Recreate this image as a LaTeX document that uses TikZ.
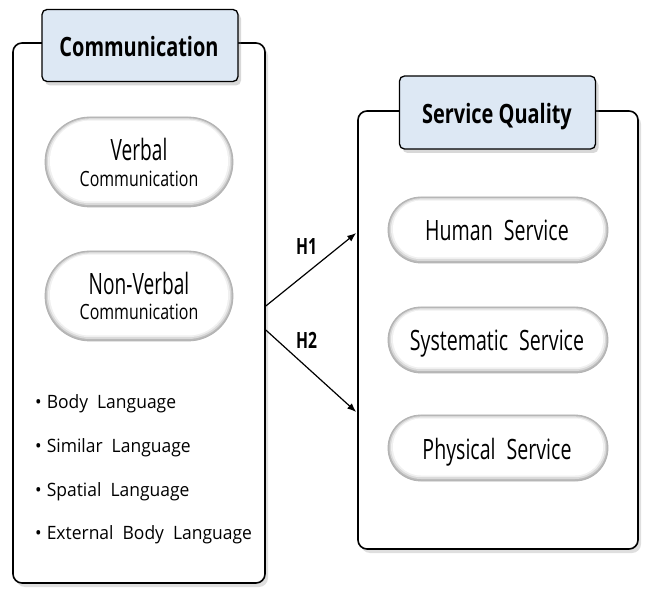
\documentclass[tikz,border=0pt]{standalone}
\usepackage{fontspec}
\setmainfont{Open Sans}
\newfontfamily\fsvc[FakeStretch=0.70]{Open Sans}
\newfontfamily\fverb[FakeStretch=0.65]{Open Sans}
\newfontfamily\fcomm[FakeStretch=0.76]{Open Sans}
\newfontfamily\fhdr[FakeStretch=0.75]{Open Sans}
\newfontfamily\fhyp[FakeStretch=0.70]{Open Sans}
\newfontfamily\fbul[FakeStretch=0.95]{Open Sans}
\newcommand{\wsp}{\hspace{11pt}}
\newcommand{\bsp}{\hspace{9pt}}
\usetikzlibrary{shadows,arrows.meta,calc}
\definecolor{hdrblue}{HTML}{DDE8F4}
\tikzset{
  x=1pt,y=1pt,
  outerbox/.style={draw=black,line width=1.6pt,rounded corners=9pt,fill=white,
    drop shadow={shadow xshift=3pt,shadow yshift=-4pt,opacity=0.25,fill=gray}},
  hdr/.style={draw=black,line width=1.3pt,rounded corners=5pt,fill=hdrblue,
    minimum width=196pt,minimum height=72pt,inner sep=0pt,
    drop shadow={shadow xshift=3pt,shadow yshift=-4pt,opacity=0.3,fill=gray}},
  hdrtext/.style={anchor=base,inner sep=0pt,font=\fhdr\fontsize{26.6}{30}\selectfont\bfseries},
  pill/.style={draw=gray!60,line width=0.8pt,fill=none,inner sep=0pt},
  svc/.style={pill,minimum width=220pt,minimum height=66pt,rounded corners=33pt},
  svctext/.style={anchor=base,inner sep=0pt,font=\fsvc\fontsize{28}{32}\selectfont},
  big/.style={anchor=base,inner sep=0pt,font=\fverb\fontsize{29.4}{32}\selectfont},
  small/.style={anchor=base,inner sep=0pt,font=\fcomm\fontsize{21}{24}\selectfont},
  bul/.style={anchor=base west,inner sep=0pt,font=\fbul\fontsize{18.4}{22}\selectfont},
  hyp/.style={anchor=base,font=\fhyp\fontsize{22.4}{26}\selectfont\bfseries,inner sep=0pt},
  conn/.style={line width=1.2pt,-{Latex[length=9pt,width=7pt]}}
}
\begin{document}
\begin{tikzpicture}
\useasboundingbox (0,0) rectangle (656,603);
% outer boxes
\node[outerbox,minimum width=252pt,minimum height=540pt,inner sep=0pt] (left) at (139,290) {};
\node[outerbox,minimum width=280pt,minimum height=438pt,inner sep=0pt] (right) at (498,273) {};
% headers
\node[hdr] (comm) at (140,557.5) {};
\node[hdrtext] (commt) at (139,546.3) {Communication};
\node[hdr,minimum height=73pt] (sq) at (497.5,490.5) {};
\node[hdrtext] (sqt) at (497,479) {Service Quality};
% pill bevels
\foreach \cx/\cy/\w/\h in {139/441/188/90, 139/307/188/90, 498/373/220/66, 498/263/220/66, 498/155/220/66}{
  \fill[gray!55,rounded corners=\h/2*1pt] (\cx-\w/2,\cy-\h/2) rectangle (\cx+\w/2,\cy+\h/2);
  \fill[gray!30,rounded corners=\h/2*1pt-1.5pt] (\cx-\w/2+1.5,\cy-\h/2+2) rectangle (\cx+\w/2-1.5,\cy+\h/2-1.2);
  \fill[gray!12,rounded corners=\h/2*1pt-3pt] (\cx-\w/2+3,\cy-\h/2+3.8) rectangle (\cx+\w/2-3,\cy+\h/2-2.4);
  \fill[white,rounded corners=\h/2*1pt-5pt] (\cx-\w/2+5,\cy-\h/2+5.5) rectangle (\cx+\w/2-5,\cy+\h/2-3.6);
}
\node[pill,minimum width=188pt,minimum height=90pt,rounded corners=45pt] (verbal) at (139,441) {};
\node[big] (verbalt) at (139,442) {Verbal};
\node[small] (verbalc) at (139,416.3) {Communication};
\node[pill,minimum width=188pt,minimum height=90pt,rounded corners=45pt] (nonverbal) at (139,307) {};
\node[big] (nonverbalt) at (139,308) {Non-Verbal};
\node[small] (nonverbalc) at (139,283) {Communication};
\node[svc] (human) at (498,373) {};
\node[svctext] (humant) at (497,362) {Human\wsp Service};
\node[svc] (system) at (498,263) {};
\node[svctext] (systemt) at (497,252.5) {Systematic\wsp Service};
\node[svc] (phys) at (498,155) {};
\node[svctext] (physt) at (497,143.7) {Physical\wsp Service};
% bullets
\node[bul] (b1) at (35,194) {\textbullet\hspace{5pt}Body\bsp Language};
\node[bul] (b2) at (35,151) {\textbullet\hspace{5pt}Similar\bsp Language};
\node[bul] (b3) at (35,107) {\textbullet\hspace{5pt}Spatial\bsp Language};
\node[bul] (b4) at (35,64) {\textbullet\hspace{5pt}External\bsp Body\bsp Language};
% connectors
\coordinate (s1) at ($(left.east)+(0,7)$);
\coordinate (s2) at ($(left.east)+(0,-17)$);
\coordinate (e1) at ($(right.west)+(-1,97)$);
\coordinate (e2) at ($(right.west)+(-1,-82)$);
\draw[conn] (s1) -- (e1);
\draw[conn] (s2) -- (e2);
\node[hyp] (h1) at (306.7,348) {H1};
\node[hyp] (h2) at (306.7,254.7) {H2};
\end{tikzpicture}
\end{document}
